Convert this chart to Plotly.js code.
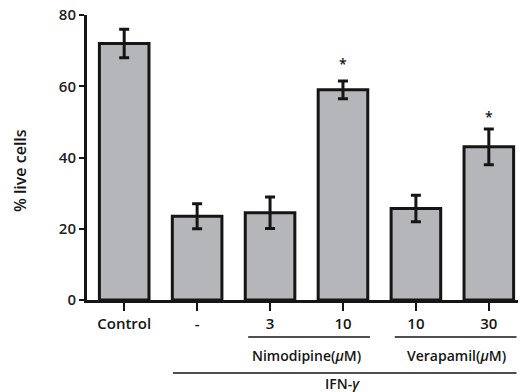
<!DOCTYPE html>
<html>
<head>
<meta charset="utf-8">
<script src="https://cdn.plot.ly/plotly-3.0.1.min.js"></script>
<style>html,body{margin:0;padding:0;background:#fff;}#chart{width:521px;height:392px;}</style>
</head>
<body>
<div id="chart"></div>
<script>
const categories = [0, 1, 2, 3, 4, 5];
const tickLabels = ["Control", "-", "3", "10", "10", "30"];
const values = [72, 23.5, 24.5, 59, 25.7, 43];
const errors = [4, 3.5, 4.4, 2.5, 3.7, 5];
const starIdx = [3, 5];
const starY = [66.5, 51.5];
const groupLabels = ["Nimodipine(<i>μ</i>M)", "Verapamil(<i>μ</i>M)"];
const outerLabel = "IFN-<i>γ</i>";

const F = "Open Sans, Liberation Sans, Arial, sans-serif";
const W = 600;

const trace = {
  type: "bar",
  x: categories,
  y: values,
  width: 0.68,
  marker: {color: "#b5b6b9", line: {color: "#151515", width: 3}},
  error_y: {type: "data", array: errors, visible: true, color: "#151515", thickness: 3, width: 5},
  hoverinfo: "none"
};

function lab(x, y, xref, yref, text, size, extra) {
  return Object.assign({x: x, y: y, xref: xref, yref: yref, text: text, showarrow: false,
    xanchor: "center", yanchor: "middle",
    font: {family: F, size: size, color: "#151515", weight: W}}, extra || {});
}

const annotations = starIdx.map((c, i) => lab(c, starY[i], "x", "y", "*", 14));
annotations.push(
  lab(2.5, -0.193, "x", "paper", groupLabels[0], 14),
  lab(4.55, -0.193, "x", "paper", groupLabels[1], 14),
  lab(3.0, -0.292, "x", "paper", outerLabel, 14),
  lab(-0.155, 0.453, "paper", "paper", "% live cells", 16, {textangle: -90})
);

const shapes = [
  {type: "line", xref: "x", yref: "paper", x0: 1.70, x1: 3.37, y0: -0.13, y1: -0.13, line: {color: "#151515", width: 1.5}},
  {type: "line", xref: "x", yref: "paper", x0: 3.71, x1: 5.38, y0: -0.13, y1: -0.13, line: {color: "#151515", width: 1.5}},
  {type: "line", xref: "x", yref: "paper", x0: 0.67, x1: 5.38, y0: -0.256, y1: -0.256, line: {color: "#151515", width: 1.5}}
];

const layout = {
  width: 521, height: 392,
  margin: {l: 87, r: 3, t: 15, b: 92},
  paper_bgcolor: "#fff", plot_bgcolor: "#fff",
  showlegend: false,
  xaxis: {
    range: [-0.51, 5.4], tickvals: categories, ticktext: tickLabels,
    showline: true, linewidth: 3, linecolor: "#151515",
    ticks: "outside", ticklen: 8, tickwidth: 2, tickcolor: "#151515",
    showgrid: false, zeroline: false,
    tickfont: {family: F, size: 15, color: "#151515", weight: W}
  },
  yaxis: {
    range: [0, 80], tickvals: [0, 20, 40, 60, 80],
    showline: true, linewidth: 3, linecolor: "#151515",
    ticks: "outside", ticklen: 5, tickwidth: 2, tickcolor: "#151515",
    showgrid: false, zeroline: false,
    tickfont: {family: F, size: 15, color: "#222", weight: W}
  },
  annotations: annotations,
  shapes: shapes
};

Plotly.newPlot("chart", [trace], layout, {displayModeBar: false, staticPlot: true});
</script>
</body>
</html>
